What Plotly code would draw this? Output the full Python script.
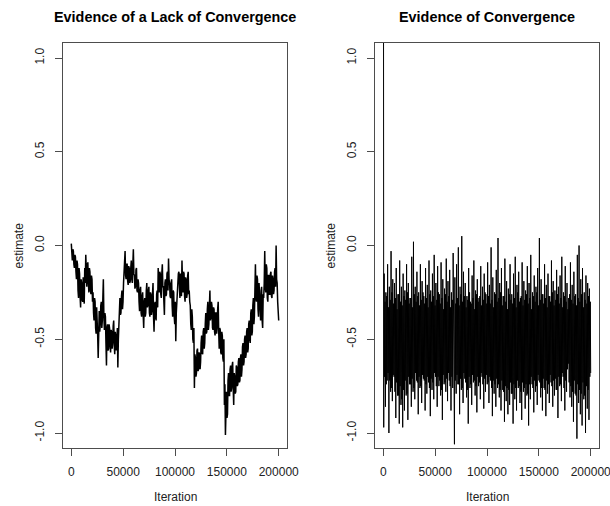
import numpy as np
import plotly.graph_objects as go

# ---- data ----
# Left panel: a slowly wandering chain. Two interleaved readings per
# ~1000 iterations (one side of the trace band, then the other).
lack_a = [
    0.01, -0.08, -0.03, -0.12, -0.06,
    -0.18, -0.10, -0.28, -0.15, -0.33, -0.20, -0.30, -0.22,
    -0.12, -0.05, -0.22, -0.09, -0.25, -0.14, -0.26, -0.18,
    -0.25, -0.40, -0.30, -0.47, -0.38, -0.60, -0.35,
    -0.42, -0.30, -0.40, -0.18,
    -0.45, -0.38, -0.64, -0.42, -0.55, -0.44, -0.57, -0.46, -0.52, -0.40, -0.58, -0.48, -0.54, -0.65,
    -0.38, -0.28, -0.36, -0.24, -0.30,
    -0.15, -0.03, -0.18, -0.10, -0.21, -0.12, -0.19, -0.08, -0.20, -0.02, -0.16, -0.22, -0.12, -0.25,
    -0.20, -0.35, -0.22, -0.38, -0.25, -0.44, -0.28, -0.36, -0.20,
    -0.32, -0.22, -0.38, -0.26, -0.35, -0.20, -0.46, -0.30, -0.40, -0.24,
    -0.12, -0.25, -0.15, -0.28, -0.10, -0.22, -0.37, -0.18, -0.26, -0.14, -0.07, -0.20,
    -0.28, -0.18, -0.38, -0.25, -0.42, -0.51, -0.30,
    -0.22, -0.14, -0.28, -0.16, -0.08, -0.25, -0.15, -0.30, -0.18, -0.26, -0.14, -0.24,
    -0.32, -0.45, -0.38, -0.52,
    -0.76, -0.60, -0.68, -0.55, -0.66, -0.58, -0.62,
    -0.48, -0.58, -0.44, -0.52,
    -0.36, -0.46, -0.30, -0.42, -0.24, -0.38,
    -0.32, -0.45, -0.34, -0.48, -0.36, -0.44, -0.30, -0.55,
    -0.45, -0.58, -0.48, -0.62,
    -0.85, -1.01, -0.78, -0.90,
    -0.68, -0.80, -0.64, -0.76, -0.62, -0.85, -0.70, -0.78, -0.65, -0.74, -0.60, -0.72, -0.58,
    -0.66, -0.52, -0.62, -0.48, -0.58, -0.44, -0.55,
    -0.40, -0.52, -0.34, -0.46, -0.28, -0.38,
    -0.10, -0.30, -0.18, -0.38,
    -0.26, -0.40, -0.22, -0.44, -0.28,
    -0.03, -0.25, -0.12, -0.30,
    -0.16, -0.26, -0.14, -0.28, -0.18, -0.24, -0.12, 0.00, -0.20,
    -0.36,
]
lack_b = [
    -0.06, -0.02, -0.10, -0.05, -0.14,
    -0.08, -0.24, -0.12, -0.27, -0.18, -0.29, -0.17, -0.31,
    -0.20, -0.15, -0.10, -0.20, -0.12, -0.24, -0.16, -0.30,
    -0.36, -0.28, -0.44, -0.33, -0.48, -0.40, -0.46,
    -0.32, -0.44, -0.28, -0.38,
    -0.36, -0.52, -0.44, -0.56, -0.42, -0.54, -0.45, -0.55, -0.43, -0.53, -0.46, -0.56, -0.44, -0.50,
    -0.30, -0.37, -0.27, -0.34, -0.20,
    -0.08, -0.16, -0.10, -0.19, -0.11, -0.20, -0.12, -0.18, -0.10, -0.15, -0.23, -0.13, -0.24, -0.18,
    -0.30, -0.24, -0.36, -0.27, -0.37, -0.30, -0.38, -0.24, -0.33,
    -0.24, -0.36, -0.25, -0.37, -0.26, -0.38, -0.32, -0.38, -0.26, -0.33,
    -0.24, -0.14, -0.26, -0.15, -0.22, -0.30, -0.20, -0.27, -0.15, -0.24, -0.18, -0.27,
    -0.20, -0.32, -0.24, -0.38, -0.30, -0.36, -0.22,
    -0.15, -0.26, -0.15, -0.27, -0.20, -0.14, -0.27, -0.17, -0.28, -0.16, -0.26, -0.30,
    -0.42, -0.34, -0.50, -0.44,
    -0.58, -0.70, -0.56, -0.67, -0.57, -0.66, -0.52,
    -0.57, -0.46, -0.55, -0.42,
    -0.47, -0.34, -0.45, -0.32, -0.40, -0.30,
    -0.44, -0.33, -0.46, -0.36, -0.47, -0.34, -0.46, -0.44,
    -0.57, -0.46, -0.60, -0.50,
    -0.74, -0.86, -0.92, -0.72,
    -0.80, -0.66, -0.78, -0.64, -0.76, -0.68, -0.79, -0.64, -0.75, -0.62, -0.73, -0.60, -0.70,
    -0.54, -0.64, -0.50, -0.60, -0.46, -0.57, -0.42,
    -0.50, -0.36, -0.48, -0.32, -0.42, -0.24,
    -0.28, -0.16, -0.34, -0.20,
    -0.38, -0.24, -0.40, -0.26, -0.20,
    -0.22, -0.10, -0.28, -0.16,
    -0.26, -0.15, -0.27, -0.16, -0.26, -0.14, -0.22, -0.18, -0.30,
    -0.40,
]

# Right panel: a well-mixed chain; start value far above the plot, then
# four readings per step: upper excursion, lower core, upper core, lower excursion
conv_start = [3.5, -0.97]
conv_high = [
    -0.15, -0.25, -0.10, -0.22, -0.03, -0.18,
    -0.20, -0.12, -0.26, -0.08, -0.22, -0.15,
    -0.24, -0.10, -0.20, -0.28, -0.06, 0.02,
    -0.22, -0.14, -0.25, -0.10, -0.19, -0.27,
    -0.12, -0.21, -0.08, -0.24, -0.15, -0.05,
    -0.20, -0.11, -0.26, -0.09, -0.18, -0.23,
    -0.07, -0.19, -0.13, -0.25, -0.04, -0.17,
    -0.10, -0.01, -0.22, 0.05, -0.14, -0.20,
    -0.27, -0.12, -0.30, -0.16, -0.08, -0.24,
    -0.18, -0.28, -0.11, -0.22, -0.15, -0.26,
    -0.09, -0.21, -0.01, -0.17, -0.25, -0.13,
    0.04, -0.20, -0.12, -0.27, -0.07, -0.19,
    -0.23, -0.10, -0.26, -0.15, -0.06, -0.21,
    -0.14, -0.28, -0.09, -0.19, -0.24, -0.11,
    -0.20, -0.05, -0.25, -0.16, -0.22, -0.12,
    0.04, -0.18, -0.26, -0.10, -0.21, -0.15,
    -0.27, -0.08, -0.19, -0.24, -0.13, -0.22,
    -0.16, -0.06, -0.25, -0.11, -0.20, -0.28,
    -0.09, -0.21, -0.14, -0.26, -0.05, 0.00,
    -0.18, -0.12, -0.25, -0.16, -0.20, -0.23,
]
conv_core_low = [
    -0.70, -0.74, -0.68, -0.72, -0.76, -0.69,
    -0.78, -0.73, -0.80, -0.75, -0.82, -0.77,
    -0.72, -0.79, -0.70, -0.74, -0.71, -0.76,
    -0.68, -0.73, -0.70, -0.75, -0.69, -0.72,
    -0.74, -0.70, -0.76, -0.71, -0.73, -0.68,
    -0.75, -0.70, -0.72, -0.77, -0.69, -0.73,
    -0.71, -0.68, -0.75, -0.70, -0.78, -0.72,
    -0.69, -0.74, -0.71, -0.76, -0.68, -0.73,
    -0.77, -0.70, -0.74, -0.69, -0.72, -0.75,
    -0.70, -0.73, -0.68, -0.74, -0.71, -0.69,
    -0.73, -0.70, -0.76, -0.72, -0.74, -0.71,
    -0.74, -0.77, -0.72, -0.78, -0.75, -0.76,
    -0.77, -0.73, -0.79, -0.74, -0.76, -0.72,
    -0.75, -0.78, -0.73, -0.76, -0.74, -0.79,
    -0.74, -0.70, -0.76, -0.72, -0.75, -0.69,
    -0.73, -0.76, -0.71, -0.77, -0.72, -0.74,
    -0.69, -0.75, -0.72, -0.71, -0.77, -0.70,
    -0.74, -0.68, -0.76, -0.72, -0.66, -0.73,
    -0.75, -0.78, -0.72, -0.80, -0.74, -0.77,
    -0.79, -0.73, -0.80, -0.75, -0.77, -0.70,
]
conv_core_high = [
    -0.30, -0.27, -0.33, -0.29, -0.25, -0.31,
    -0.28, -0.34, -0.26, -0.30, -0.32, -0.27,
    -0.29, -0.25, -0.31, -0.28, -0.33, -0.26,
    -0.30, -0.27, -0.32, -0.29, -0.25, -0.31,
    -0.28, -0.33, -0.26, -0.30, -0.27, -0.32,
    -0.29, -0.25, -0.31, -0.28, -0.34, -0.26,
    -0.30, -0.27, -0.33, -0.29, -0.25, -0.31,
    -0.28, -0.32, -0.26, -0.30, -0.27, -0.33,
    -0.29, -0.25, -0.31, -0.28, -0.34, -0.26,
    -0.30, -0.27, -0.32, -0.29, -0.25, -0.31,
    -0.27, -0.31, -0.29, -0.33, -0.26, -0.30,
    -0.28, -0.25, -0.32, -0.27, -0.30, -0.34,
    -0.26, -0.29, -0.31, -0.28, -0.33, -0.25,
    -0.30, -0.27, -0.32, -0.29, -0.26, -0.31,
    -0.28, -0.34, -0.27, -0.30, -0.25, -0.32,
    -0.29, -0.26, -0.31, -0.28, -0.33, -0.27,
    -0.30, -0.25, -0.32, -0.29, -0.26, -0.31,
    -0.28, -0.33, -0.27, -0.30, -0.34, -0.26,
    -0.29, -0.31, -0.27, -0.32, -0.28, -0.30,
    -0.26, -0.33, -0.29, -0.31, -0.27, -0.30,
]
conv_low = [
    -0.86, -0.72, -1.00, -0.78, -0.83, -0.70,
    -0.92, -0.80, -0.95, -0.85, -0.97, -0.88,
    -0.80, -0.93, -0.74, -0.86, -0.78, -0.82,
    -0.72, -0.90, -0.76, -0.84, -0.71, -0.88,
    -0.79, -0.73, -0.91, -0.77, -0.82, -0.70,
    -0.86, -0.75, -0.80, -0.93, -0.74, -0.78,
    -0.83, -0.72, -0.88, -0.76, -1.06, -0.79,
    -0.74, -0.90, -0.77, -0.84, -0.71, -0.81,
    -0.95, -0.76, -0.85, -0.73, -0.80, -0.89,
    -0.75, -0.82, -0.70, -0.87, -0.78, -0.74,
    -0.84, -0.72, -0.91, -0.79, -0.86, -0.76,
    -0.81, -0.88, -0.77, -0.94, -0.83, -0.90,
    -0.85, -0.79, -0.95, -0.82, -0.88, -0.76,
    -0.84, -0.93, -0.78, -0.87, -0.80, -0.96,
    -0.82, -0.74, -0.89, -0.78, -0.85, -0.72,
    -0.81, -0.88, -0.76, -0.91, -0.79, -0.84,
    -0.73, -0.86, -0.80, -0.77, -0.92, -0.75,
    -0.83, -0.70, -0.88, -0.78, -0.63, -0.81,
    -0.86, -0.94, -0.79, -1.03, -0.84, -0.90,
    -0.96, -0.82, -1.00, -0.87, -0.93, -0.68,
]

n_iter = 200000
x_ticks = [0, 50000, 100000, 150000, 200000]
y_ticks = [-1.0, -0.5, 0.0, 0.5, 1.0]
y_tick_text = ["-1.0", "-0.5", "0.0", "0.5", "1.0"]
titles = ["Evidence of a Lack of Convergence", "Evidence of Convergence"]

# build chains
lack_values = []
for a, b in zip(lack_a, lack_b):
    lack_values += [a, b]
lack_x = np.linspace(0, n_iter, len(lack_values))

conv_values = list(conv_start)
for h, cl, ch, l in zip(conv_high, conv_core_low, conv_core_high, conv_low):
    conv_values += [h, cl, ch, l]
conv_x = np.linspace(0, n_iter, len(conv_values))

W, H = 610, 506
FONT = "Liberation Sans, Arial, sans-serif"
LINE = "#4d4d4d"

fig = go.Figure()
fig.add_trace(go.Scatter(x=lack_x, y=lack_values, mode="lines",
                         line=dict(color="black", width=1.5), xaxis="x", yaxis="y",
                         showlegend=False, hoverinfo="skip"))
fig.add_trace(go.Scatter(x=conv_x, y=conv_values, mode="lines",
                         line=dict(color="black", width=1), xaxis="x2", yaxis="y2",
                         showlegend=False, hoverinfo="skip"))

# plot box pixel positions
boxes = [(63, 287), (375, 599)]
top, bottom = 43, 448
ydom = [(H - bottom) / H, (H - top) / H]

def xaxis_cfg(l, r, anchor):
    return dict(domain=[l / W, r / W], range=[-8000, 208000], anchor=anchor,
                tickvals=x_ticks, ticktext=[str(v) for v in x_ticks],
                ticks="outside", ticklen=7, tickcolor=LINE, tickwidth=1,
                showline=True, linecolor=LINE, linewidth=1, mirror=True,
                showgrid=False, zeroline=False, ticklabelstandoff=6,
                automargin=False, ticklabeloverflow="allow",
                tickfont=dict(family=FONT, size=12, color="#222"))

def yaxis_cfg(anchor):
    return dict(domain=ydom, range=[-1.08, 1.08], anchor=anchor,
                tickvals=y_ticks, ticktext=y_tick_text, tickangle=-90,
                ticks="outside", ticklen=7, tickcolor=LINE, tickwidth=1,
                showline=True, linecolor=LINE, linewidth=1, mirror=True,
                showgrid=False, zeroline=False, ticklabelstandoff=6,
                automargin=False, ticklabeloverflow="allow",
                tickfont=dict(family=FONT, size=12, color="#222"))

annotations = []
for i, ((l, r), t) in enumerate(zip(boxes, titles)):
    cx = (l + r) / 2
    annotations.append(dict(text="<b>" + t + "</b>", x=cx / W, y=1 - 17 / H,
                            xref="paper", yref="paper", showarrow=False,
                            xanchor="center", yanchor="middle",
                            font=dict(family=FONT, size=14.4, color="black")))
    annotations.append(dict(text="Iteration", x=cx / W, y=1 - 497 / H,
                            xref="paper", yref="paper", showarrow=False,
                            xanchor="center", yanchor="middle",
                            font=dict(family=FONT, size=12, color="#222")))
    annotations.append(dict(text="estimate", x=(l - 45) / W, y=1 - 245.5 / H,
                            xref="paper", yref="paper", showarrow=False,
                            textangle=-90, xanchor="center", yanchor="middle",
                            font=dict(family=FONT, size=12, color="#222")))

fig.update_layout(
    template="none",
    width=W, height=H, autosize=False,
    margin=dict(l=0, r=0, t=0, b=0, pad=0),
    paper_bgcolor="white", plot_bgcolor="white",
    xaxis=xaxis_cfg(*boxes[0], "y"),
    yaxis=yaxis_cfg("x"),
    xaxis2=xaxis_cfg(*boxes[1], "y2"),
    yaxis2=yaxis_cfg("x2"),
    annotations=annotations,
    showlegend=False,
)

fig.write_html("out.html", config={"responsive": False})
